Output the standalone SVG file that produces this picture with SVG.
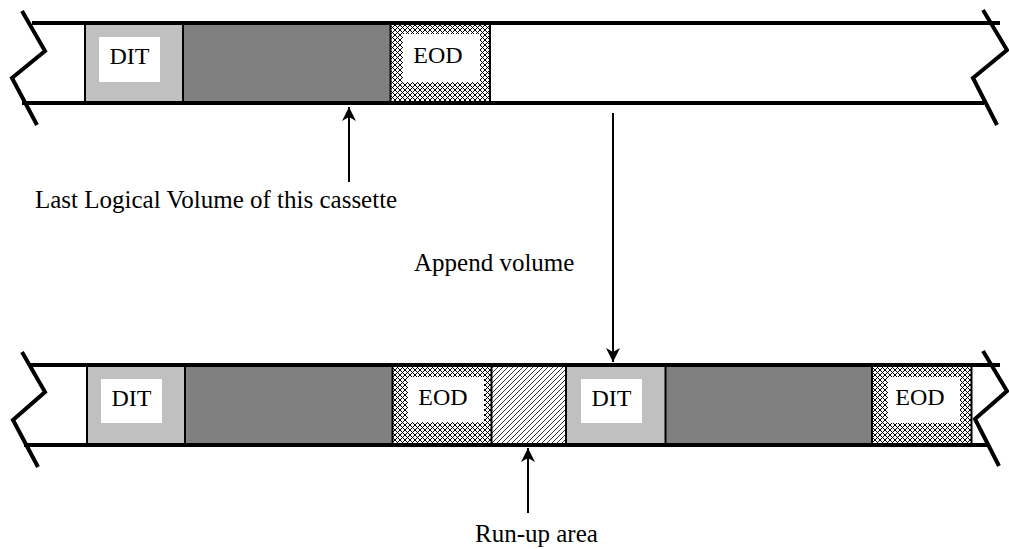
<svg xmlns="http://www.w3.org/2000/svg" width="1009" height="549" viewBox="0 0 1009 549">
<style>
.band{stroke:#000;stroke-width:4;fill:none}
.zig{stroke:#000;stroke-width:4;fill:none;stroke-linejoin:miter}
.sep{stroke:#000;stroke-width:2}
.dit{fill:#C0C0C0}
.dark{fill:#808080}
.eod{fill:url(#cross)}
.runup{fill:url(#hatch)}
.inner{fill:#fff}
.lbl{font-family:"Liberation Serif","Times New Roman",serif;font-size:24px;fill:#000}
.txt{font-family:"Liberation Serif","Times New Roman",serif;font-size:25px;fill:#000}
.arr{stroke:#000;stroke-width:2;fill:none}
</style>
<defs>
<pattern id="cross" width="5" height="5" patternUnits="userSpaceOnUse">
<rect width="5" height="5" fill="#fff"/>
<path d="M0,0 L5,5 M5,0 L0,5" stroke="#000" stroke-width="1"/>
</pattern>
<pattern id="hatch" width="5" height="5" patternUnits="userSpaceOnUse">
<rect width="5" height="5" fill="#fff"/>
<path d="M-1,6 L6,-1 M-1,1 L1,-1 M4,6 L6,4" stroke="#000" stroke-width="0.8"/>
</pattern>
<marker id="ah" viewBox="0 0 14 14" refX="14" refY="7" markerWidth="14" markerHeight="14" markerUnits="userSpaceOnUse" orient="auto">
<path d="M0,0 L14,7 L0,14 L4,7 Z" fill="#000"/>
</marker>
</defs>

<g id="tape-top">
<rect class="dit" x="85" y="23" width="98" height="80"/>
<rect class="inner" x="99" y="37" width="61" height="45"/>
<text class="lbl" x="129.5" y="64" text-anchor="middle">DIT</text>
<rect class="dark" x="183" y="23" width="207" height="80"/>
<rect class="eod" x="391" y="23" width="99" height="80"/>
<rect class="inner" x="403" y="34" width="77" height="48"/>
<text class="lbl" x="438" y="63" text-anchor="middle">EOD</text>
<line class="sep" x1="85" y1="23" x2="85" y2="103"/>
<line class="sep" x1="183" y1="23" x2="183" y2="103"/>
<line class="sep" x1="390.5" y1="23" x2="390.5" y2="103"/>
<line class="sep" x1="490" y1="23" x2="490" y2="103"/>
<line class="band" x1="32" y1="23" x2="1000" y2="23"/>
<line class="band" x1="22" y1="103" x2="984" y2="103"/>
<polyline class="zig" points="22,11 45,51 12,78 37,125"/>
<polyline class="zig" points="983,10 1007,50 973,78 997,125"/>
</g>

<g id="tape-bottom">
<rect class="dit" x="87" y="365" width="98" height="80"/>
<rect class="inner" x="101" y="379" width="61" height="44"/>
<text class="lbl" x="131.5" y="406" text-anchor="middle">DIT</text>
<rect class="dark" x="185" y="365" width="207" height="80"/>
<rect class="eod" x="392" y="365" width="100" height="80"/>
<rect class="inner" x="408" y="377" width="76" height="45"/>
<text class="lbl" x="443" y="405" text-anchor="middle">EOD</text>
<rect class="runup" x="492" y="365" width="74" height="80"/>
<rect class="dit" x="566" y="365" width="100" height="80"/>
<rect class="inner" x="581" y="379" width="61" height="44"/>
<text class="lbl" x="611.5" y="406" text-anchor="middle">DIT</text>
<rect class="dark" x="666" y="365" width="206" height="80"/>
<rect class="eod" x="872" y="365" width="100" height="80"/>
<rect class="inner" x="888" y="377" width="72" height="46"/>
<text class="lbl" x="920" y="405" text-anchor="middle">EOD</text>
<line class="sep" x1="87" y1="365" x2="87" y2="445"/>
<line class="sep" x1="185" y1="365" x2="185" y2="445"/>
<line class="sep" x1="392.5" y1="365" x2="392.5" y2="445"/>
<line class="sep" x1="491.5" y1="365" x2="491.5" y2="445"/>
<line class="sep" x1="566" y1="365" x2="566" y2="445"/>
<line class="sep" x1="665.5" y1="365" x2="665.5" y2="445"/>
<line class="sep" x1="872" y1="365" x2="872" y2="445"/>
<line class="sep" x1="971.5" y1="365" x2="971.5" y2="445"/>
<line class="band" x1="30" y1="365" x2="1000" y2="365"/>
<line class="band" x1="24" y1="445" x2="987" y2="445"/>
<polyline class="zig" points="22,352 45,392 13,420 38,467"/>
<polyline class="zig" points="983,351 1007,391 975,419 999,466"/>
</g>

<g id="connectors">
<line class="arr" x1="349" y1="182" x2="349" y2="107" marker-end="url(#ah)"/>
<line class="arr" x1="613" y1="113" x2="613" y2="362" marker-end="url(#ah)"/>
<line class="arr" x1="528" y1="513" x2="528" y2="448" marker-end="url(#ah)"/>
</g>

<g id="labels">
<text class="txt" x="35" y="208">Last Logical Volume of this cassette</text>
<text class="txt" x="414" y="271">Append volume</text>
<text class="txt" x="475" y="542">Run-up area</text>
</g>
</svg>
